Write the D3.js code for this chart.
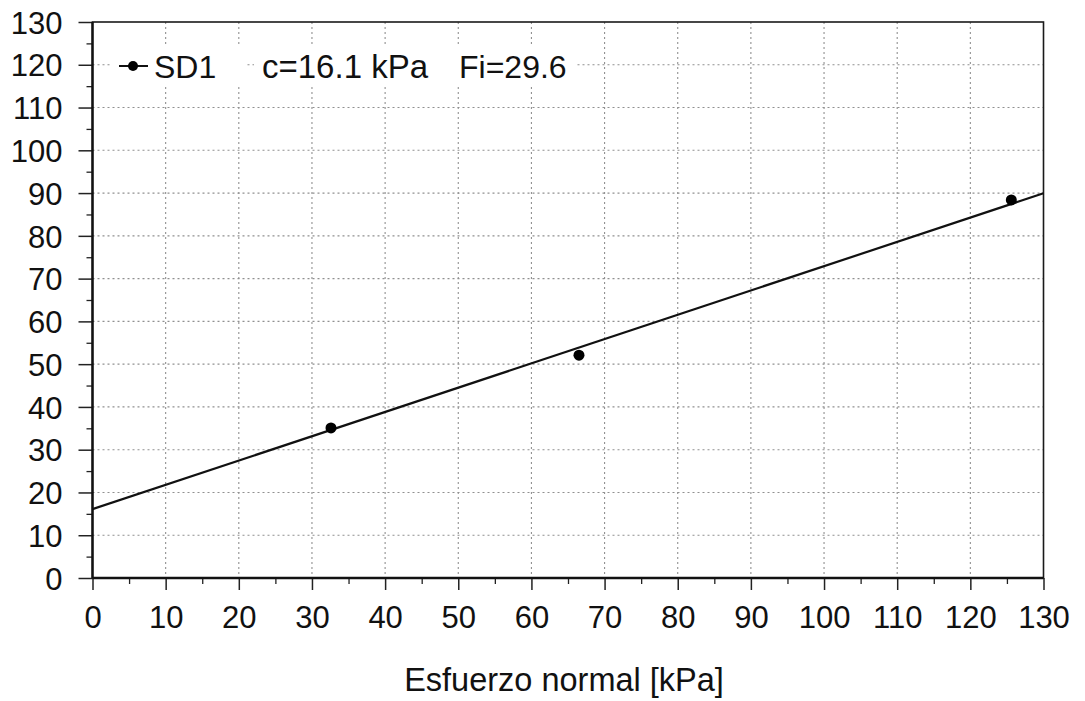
<!DOCTYPE html>
<html>
<head>
<meta charset="utf-8">
<script src="https://cdn.jsdelivr.net/npm/d3@7"></script>
<style>
  html, body { margin: 0; padding: 0; background: #fff; }
  svg { display: block; }
  text { font-family: "Liberation Sans", Arial, sans-serif; fill: #111; }
</style>
</head>
<body>
<svg id="chart" width="1085" height="701"></svg>
<script>
// Direct shear test results, sample SD1
const seriesName = "SD1";
const normalStress = [32.6, 66.5, 125.6];   // kPa
const shearStress  = [35.1, 52.1, 88.4];    // kPa
const cohesion = 16.1;      // kPa
const frictionAngle = 29.6; // degrees

const xTicks = [0, 10, 20, 30, 40, 50, 60, 70, 80, 90, 100, 110, 120, 130];
const yTicks = [0, 10, 20, 30, 40, 50, 60, 70, 80, 90, 100, 110, 120, 130];
const minorTicks = [5, 15, 25, 35, 45, 55, 65, 75, 85, 95, 105, 115, 125];
const xTitle = "Esfuerzo normal [kPa]";

const svg = d3.select("#chart");
const plotL = 92.5, plotR = 1043.5, plotT = 22, plotB = 578;

const x = d3.scaleLinear().domain([0, 130]).range([plotL, plotR]);
const y = d3.scaleLinear().domain([0, 130]).range([plotB, plotT]);

// dotted grid
const grid = svg.append("g").attr("stroke", "#909090").attr("stroke-width", 1.1)
  .attr("stroke-dasharray", "2,3");
grid.selectAll("line.v").data(xTicks.filter(d => d > 0 && d < 130)).join("line")
  .attr("class", "v")
  .attr("x1", d => x(d)).attr("x2", d => x(d)).attr("y1", plotT).attr("y2", plotB);
grid.selectAll("line.h").data(yTicks.filter(d => d > 0 && d < 130)).join("line")
  .attr("class", "h")
  .attr("y1", d => y(d)).attr("y2", d => y(d)).attr("x1", plotL).attr("x2", plotR);

// Y axis
const yAxis = d3.axisLeft(y).tickValues(yTicks).tickSize(14).tickPadding(16)
  .tickFormat(d3.format("d"));
const gy = svg.append("g").attr("transform", `translate(${plotL},0)`).call(yAxis);
gy.select(".domain").remove();
gy.selectAll(".tick line").attr("stroke", "#222").attr("stroke-width", 1.5);
gy.selectAll(".tick text").attr("font-size", 31).attr("font-family", "Liberation Sans, Arial, sans-serif")
  .attr("fill", "#111").attr("dy", "0.36em");
const gyMinor = svg.append("g").attr("transform", `translate(${plotL},0)`)
  .call(d3.axisLeft(y).tickValues(minorTicks).tickSize(6).tickFormat(""));
gyMinor.select(".domain").remove();
gyMinor.selectAll(".tick line").attr("stroke", "#222").attr("stroke-width", 1.3);

// X axis
const xAxis = d3.axisBottom(x).tickValues(xTicks).tickSize(12).tickPadding(16)
  .tickFormat(d3.format("d"));
const gx = svg.append("g").attr("transform", `translate(0,${plotB})`).call(xAxis);
gx.select(".domain").remove();
gx.selectAll(".tick line").attr("stroke", "#222").attr("stroke-width", 1.5);
gx.selectAll(".tick text").attr("font-size", 31).attr("font-family", "Liberation Sans, Arial, sans-serif")
  .attr("fill", "#111");
const gxMinor = svg.append("g").attr("transform", `translate(0,${plotB})`)
  .call(d3.axisBottom(x).tickValues(minorTicks).tickSize(6).tickFormat(""));
gxMinor.select(".domain").remove();
gxMinor.selectAll(".tick line").attr("stroke", "#222").attr("stroke-width", 1.3);

// plot frame
svg.append("rect").attr("x", plotL).attr("y", plotT)
  .attr("width", plotR - plotL).attr("height", plotB - plotT)
  .attr("fill", "none").attr("stroke", "#1a1a1a").attr("stroke-width", 1.6);
svg.append("line").attr("x1", plotL).attr("x2", plotL).attr("y1", plotT).attr("y2", plotB)
  .attr("stroke", "#111").attr("stroke-width", 2.4);
svg.append("line").attr("x1", plotL).attr("x2", plotR).attr("y1", plotB).attr("y2", plotB)
  .attr("stroke", "#111").attr("stroke-width", 2.4);

// Mohr-Coulomb envelope: tau = c + sigma * tan(phi)
const slope = Math.tan(frictionAngle * Math.PI / 180);
const envelope = [0, 130].map(s => [s, cohesion + slope * s]);
svg.append("path")
  .datum(envelope)
  .attr("d", d3.line().x(d => x(d[0])).y(d => y(d[1])))
  .attr("fill", "none").attr("stroke", "#111").attr("stroke-width", 2.2);

// measured points
svg.selectAll("circle.pt").data(d3.zip(normalStress, shearStress)).join("circle")
  .attr("class", "pt")
  .attr("cx", d => x(d[0])).attr("cy", d => y(d[1])).attr("r", 5.5)
  .attr("fill", "#000");

// legend
const lg = svg.append("g").attr("transform", "translate(0,66)");
lg.append("rect").attr("x", 112).attr("y", -20).attr("width", 135).attr("height", 40).attr("fill", "#fff");
lg.append("rect").attr("x", 254).attr("y", -20).attr("width", 322).attr("height", 40).attr("fill", "#fff");
lg.append("line").attr("x1", 119).attr("x2", 148).attr("y1", 0).attr("y2", 0)
  .attr("stroke", "#111").attr("stroke-width", 2);
lg.append("circle").attr("cx", 133).attr("cy", 0).attr("r", 5).attr("fill", "#000");
lg.append("text").attr("x", 154).attr("y", 0).attr("dy", "0.36em").attr("font-size", 32).text(seriesName);
lg.append("text").attr("x", 262).attr("y", 0).attr("dy", "0.36em").attr("font-size", 33)
  .text(`c=${cohesion.toFixed(1)} kPa`);
lg.append("text").attr("x", 459).attr("y", 0).attr("dy", "0.36em").attr("font-size", 32)
  .text(`Fi=${frictionAngle.toFixed(1)}`);

// axis title
svg.append("text").attr("x", 564).attr("y", 691).attr("text-anchor", "middle")
  .attr("font-size", 32.5).text(xTitle);
</script>
</body>
</html>
